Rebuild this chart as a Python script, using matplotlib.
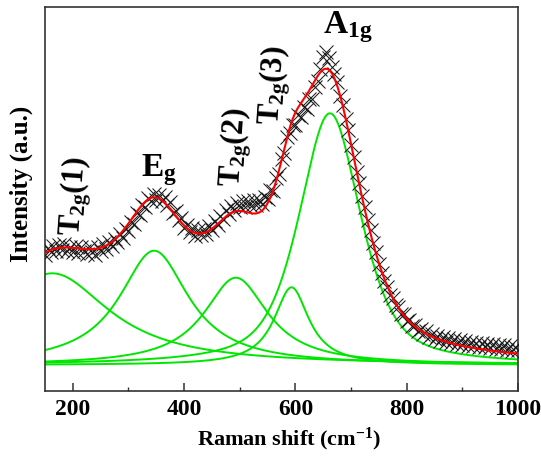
import numpy as np
import matplotlib
matplotlib.use('Agg')
import matplotlib.pyplot as plt
from matplotlib.ticker import MultipleLocator

plt.rcParams['font.family'] = ['Liberation Serif', 'DejaVu Serif']
plt.rcParams['font.weight'] = 'bold'
plt.rcParams['mathtext.fontset'] = 'custom'
plt.rcParams['mathtext.rm'] = 'Liberation Serif:bold'
plt.rcParams['mathtext.bf'] = 'Liberation Serif:bold'
plt.rcParams['mathtext.it'] = 'Liberation Serif:bold'

# measured spectrum, sampled every 5 cm-1 from 150 to 1000
raman_shift = np.arange(150, 1001, 5)
intensity = [
    136, 143, 139, 145, 140, 146, 141, 147, 140, 144,
    139, 145, 138, 144, 140, 137, 144, 139, 136, 144,
    140, 147, 142, 149, 145, 152, 149, 157, 153, 162,
    160, 169, 167, 178, 176, 186, 184, 193, 190, 197,
    191, 196, 190, 194, 186, 189, 178, 180, 171, 173,
    163, 166, 159, 163, 155, 161, 156, 162, 157, 165,
    161, 170, 166, 175, 172, 181, 177, 185, 181, 188,
    184, 190, 184, 190, 185, 191, 186, 191, 187, 194,
    192, 201, 200, 213, 217, 232, 238, 254, 258, 266,
    266, 276, 274, 284, 282, 292, 292, 304, 310, 322,
    334, 339, 333, 324, 317, 309, 295, 286, 272, 261,
    246, 234, 219, 208, 195, 184, 171, 161, 148, 139,
    127, 118, 110, 104, 96, 93, 86, 84, 77, 77,
    70, 71, 65, 66, 60, 62, 57, 60, 54, 57,
    52, 55, 50, 54, 49, 53, 48, 52, 47, 51,
    46, 50, 45, 49, 45, 48, 44, 48, 44, 47,
    43, 47, 42, 46, 42, 46, 41, 45, 40, 44,
    41,
]

# fitted peaks (pseudo-Voigt), common flat background
peak_names = ['T2g(1)', 'Eg', 'T2g(2)', 'T2g(3)', 'A1g']
peak_center = [163, 346, 493, 593, 662]
peak_height = [91.7, 114.3, 87.3, 77.7, 251.7]
peak_hwhm = [125, 76, 70, 38, 66]
peak_eta = [1.0, 1.0, 1.0, 1.0, 0.6]
background = 26

label_text = [r'T$_{\mathrm{2g}}$(1)', r'E$_{\mathrm{g}}$', r'T$_{\mathrm{2g}}$(2)',
              r'T$_{\mathrm{2g}}$(3)', r'A$_{\mathrm{1g}}$']
label_x = [205, 355, 492, 562, 694]
label_y = [195, 221, 244, 306, 364]
label_rot = [86, 0, 86, 86, 0]
label_size = [22, 24, 22, 22, 24]


def pvoigt(x, c, a, w, eta):
    d2 = (x - c) ** 2
    lor = w ** 2 / (d2 + w ** 2)
    gau = np.exp(-np.log(2) * d2 / w ** 2)
    return a * (eta * lor + (1 - eta) * gau)


xs = np.linspace(150, 1000, 900)
fit = np.full_like(xs, background, dtype=float)

fig = plt.figure(figsize=(5.41, 4.57), dpi=100)
ax = fig.add_axes([0.0832, 0.1444, 0.8743, 0.8403])

for c, a, w, e in zip(peak_center, peak_height, peak_hwhm, peak_eta):
    comp = pvoigt(xs, c, a, w, e)
    fit += comp
    ax.plot(xs, background + comp, color='#00e600', lw=1.4, zorder=2)

ax.plot(raman_shift, intensity, ls='none', marker='x', ms=10, mew=0.75,
        color='#1a1a1a', zorder=3)
ax.plot(xs, fit, color='#ff0000', lw=1.5, zorder=4)

for t, x, y, r, s in zip(label_text, label_x, label_y, label_rot, label_size):
    ax.text(x, y, t, fontsize=s, fontweight='bold', rotation=r,
            ha='center', va='center', rotation_mode='anchor')

ax.set_xlim(150, 1000)
ax.set_ylim(0, 384)
ax.xaxis.set_major_locator(MultipleLocator(200))
ax.xaxis.set_minor_locator(MultipleLocator(100))
ax.set_yticks([])
ax.tick_params(axis='x', which='major', direction='in', length=6, width=1.1,
               labelsize=17, pad=6, color='#333333')
ax.tick_params(axis='x', which='minor', direction='in', length=3, width=1.0,
               color='#333333')
for sp in ax.spines.values():
    sp.set_linewidth(1.2)
    sp.set_color('#333333')

ax.set_xlabel(r'Raman shift (cm$^{\mathrm{-1}}$)', fontsize=16, fontweight='bold')
ax.xaxis.set_label_coords(0.516, -0.09)
ax.set_ylabel('Intensity (a.u.)', fontsize=18, fontweight='bold')
ax.yaxis.set_label_coords(-0.026, 0.539)

fig.savefig('out.png', dpi=100)
